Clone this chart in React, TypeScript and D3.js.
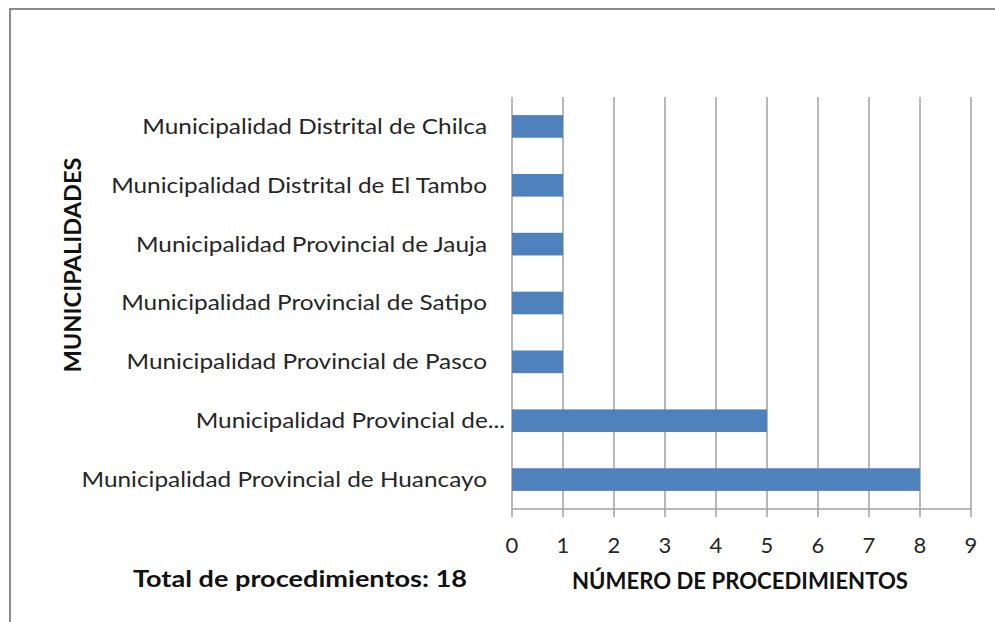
import React from "react";
import * as d3 from "d3";

const categories = [
  "Municipalidad Distrital de Chilca",
  "Municipalidad Distrital de El Tambo",
  "Municipalidad Provincial de Jauja",
  "Municipalidad Provincial de Satipo",
  "Municipalidad Provincial de Pasco",
  "Municipalidad Provincial de...",
  "Municipalidad Provincial de Huancayo",
];
const values = [1, 1, 1, 1, 1, 5, 8];
const xTicks = [0, 1, 2, 3, 4, 5, 6, 7, 8, 9];
const yTitle = "MUNICIPALIDADES";
const xTitle = "NÚMERO DE PROCEDIMIENTOS";
const totalLabel = "Total de procedimientos: 18";

const W = 995;
const H = 622;
const left = 512;
const right = 971;
const top = 97;
const bottom = 509;
const FONT = "Lato, 'Open Sans', sans-serif";

export default function App() {
  const x = d3.scaleLinear().domain([0, 9]).range([left, right]);
  const y = d3.scaleBand<string>().domain(categories).range([top, bottom]).paddingInner(0.615).paddingOuter(0.3075);
  return (
    <svg width={W} height={H} style={{ position: "absolute", left: 0, top: 0, background: "#fff" }}>
      <rect x={0} y={0} width={W} height={H} fill="#fff" />
      <rect x={10} y={9} width={1000} height={700} fill="none" stroke="#8c8c8c" strokeWidth={2} />
      {xTicks.slice(1).map((t) => (
        <line key={"g" + t} x1={x(t)} x2={x(t)} y1={top} y2={bottom} stroke="#a0a0a0" strokeWidth={1.5} />
      ))}
      <line x1={left} x2={left} y1={top} y2={bottom} stroke="#a0a0a0" strokeWidth={1.5} />
      <line x1={left} x2={right} y1={bottom} y2={bottom} stroke="#a0a0a0" strokeWidth={1.5} />
      {xTicks.map((t) => (
        <line key={"t" + t} x1={x(t)} x2={x(t)} y1={bottom} y2={bottom + 8} stroke="#a0a0a0" strokeWidth={1.5} />
      ))}
      {categories.map((c, i) => (
        <rect key={c} x={x(0)} y={y(c)!} width={x(values[i]) - x(0)} height={y.bandwidth()} fill="#4f81bd" />
      ))}
      {categories.map((c) => {
        const trunc = c.endsWith("...");
        return (
          <text
            key={"l" + c}
            transform={`translate(${trunc ? 505 : 487},${y(c)! + y.bandwidth() / 2}) scale(1.16,1)`}
            dy="0.35em"
            textAnchor="end"
            fontFamily={FONT}
            fontSize={21}
            fill="#262626"
          >
            {c}
          </text>
        );
      })}
      {xTicks.map((t) => (
        <text key={"xl" + t} x={x(t)} y={545} dy="0.35em" textAnchor="middle" fontFamily={FONT} fontSize={22} fill="#262626">
          {t}
        </text>
      ))}
      <text
        transform={`translate(73,${265}) rotate(-90)`}
        dy="0.35em"
        textAnchor="middle"
        fontFamily={FONT}
        fontWeight="bold"
        fontSize={22}
        fill="#111"
        textLength={215}
        lengthAdjust="spacingAndGlyphs"
      >
        {yTitle}
      </text>
      <text
        x={572}
        y={581}
        dy="0.35em"
        fontFamily={FONT}
        fontWeight="bold"
        fontSize={22}
        fill="#111"
        textLength={336}
        lengthAdjust="spacingAndGlyphs"
      >
        {xTitle}
      </text>
      <text
        x={133}
        y={579}
        dy="0.35em"
        fontFamily={FONT}
        fontWeight="bold"
        fontSize={22}
        fill="#111"
        textLength={334}
        lengthAdjust="spacingAndGlyphs"
      >
        {totalLabel}
      </text>
    </svg>
  );
}
